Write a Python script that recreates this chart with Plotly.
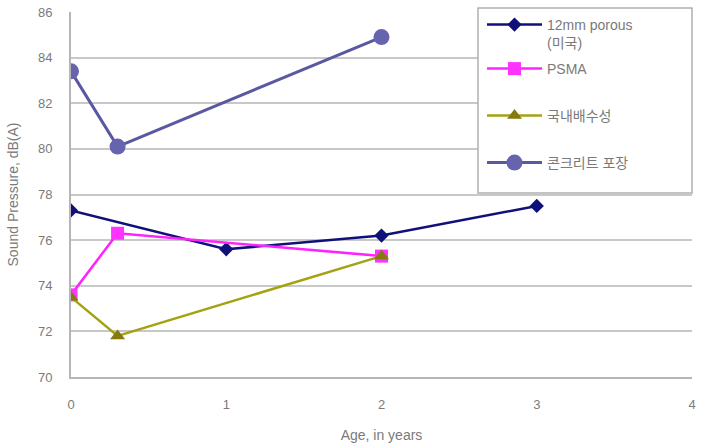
import plotly.graph_objects as go

# Data
names = ["12mm porous<br>(미국)", "PSMA", "국내배수성", "콘크리트 포장"]
x_porous = [0, 1, 2, 3]
y_porous = [77.3, 75.6, 76.2, 77.5]
x_psma = [0, 0.3, 2]
y_psma = [73.6, 76.3, 75.3]
x_domestic = [0, 0.3, 2]
y_domestic = [73.5, 71.8, 75.3]
x_concrete = [0, 0.3, 2]
y_concrete = [83.4, 80.1, 84.9]
x_ticks = [0, 1, 2, 3, 4]
y_ticks = [70, 72, 74, 76, 78, 80, 82, 84, 86]

GRAY = "#7a7a7a"
FONT = "Liberation Sans, Noto Sans CJK KR, sans-serif"
L, R, T, B = 71, 11, 12, 69
W, H = 703, 446
PW, PH = W - L - R, H - T - B


def px_x(p):
    return (p - L) / PW


def px_y(p):
    return (H - B - p) / PH


fig = go.Figure()
fig.add_trace(go.Scatter(
    x=x_porous, y=y_porous, name=names[0], mode="lines+markers", legend="legend",
    line=dict(color="#10107a", width=2.5),
    marker=dict(symbol="diamond", size=11, color="#10107a")))
fig.add_trace(go.Scatter(
    x=x_psma, y=y_psma, name=names[1], mode="lines+markers", legend="legend2",
    line=dict(color="#ff22ff", width=2.5),
    marker=dict(symbol="square", size=13, color="#ff33ff")))
fig.add_trace(go.Scatter(
    x=x_domestic, y=y_domestic, name=names[2], mode="lines+markers", legend="legend3",
    line=dict(color="#a3a312", width=2.5),
    marker=dict(symbol="triangle-up", size=13, color="#857a10")))
fig.add_trace(go.Scatter(
    x=x_concrete, y=y_concrete, name=names[3], mode="lines+markers", legend="legend4",
    line=dict(color="#5a58a0", width=3),
    marker=dict(symbol="circle", size=16, color="#6664ae")))

fig.add_shape(type="rect", xref="paper", yref="paper",
              x0=px_x(478), x1=px_x(692), y0=px_y(193), y1=px_y(8),
              fillcolor="white", line=dict(color="#b0b0b0", width=1.5), layer="above")


def leg(top_px):
    return dict(x=px_x(482), y=1 - top_px / H, xref="paper", yref="container",
                xanchor="left", yanchor="top",
                bgcolor="rgba(0,0,0,0)", borderwidth=0,
                font=dict(size=14, color=GRAY, family=FONT),
                itemwidth=55, valign="top")


fig.update_layout(
    width=W, height=H,
    margin=dict(l=L, r=R, t=T, b=B, autoexpand=False),
    paper_bgcolor="white", plot_bgcolor="white",
    font=dict(family=FONT, color=GRAY, size=12),
    showlegend=True,
    legend=leg(9),
    legend2=leg(53),
    legend3=leg(100),
    legend4=leg(147),
    xaxis=dict(
        range=[0, 4], tickvals=x_ticks, showgrid=False, zeroline=False,
        showline=True, linecolor="#b5b5b5", linewidth=2, automargin=False,
        ticks="", ticklabelstandoff=14,
        tickfont=dict(size=13, color=GRAY),
        title=dict(text="Age, in years", font=dict(size=14, color=GRAY), standoff=20)),
    yaxis=dict(
        range=[70, 86], tickvals=y_ticks, showgrid=True, gridcolor="#c8c8c8", gridwidth=2,
        zeroline=False, showline=True, linecolor="#b5b5b5", linewidth=2, automargin=False,
        ticks="", ticklabelstandoff=14,
        tickfont=dict(size=13, color=GRAY),
        title=dict(text="Sound Pressure, dB(A)", font=dict(size=14, color=GRAY), standoff=16)),
)

fig.write_html("out.html")
